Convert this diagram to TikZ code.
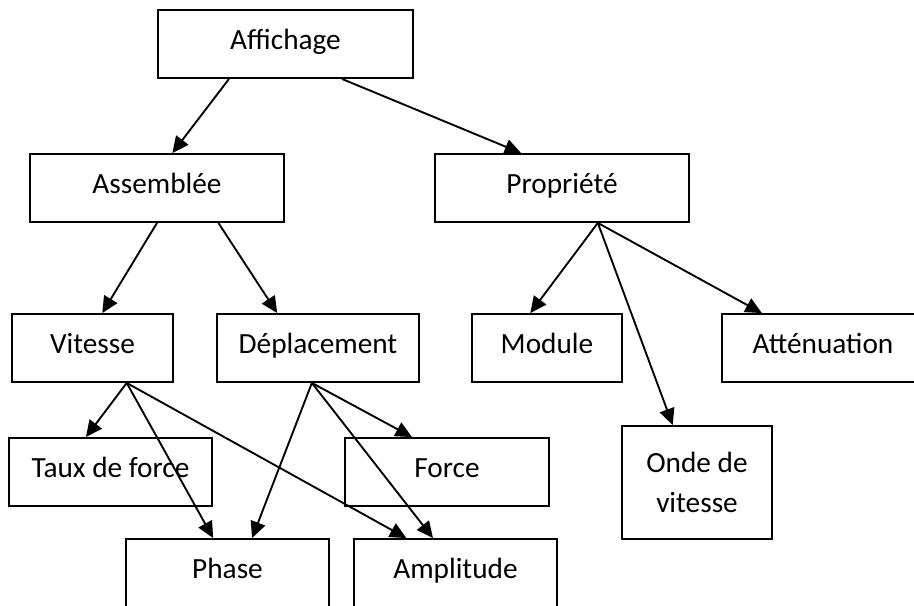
\documentclass[tikz,border=0pt]{standalone}
\usepackage{fontspec}
\setmainfont{Carlito}
\usepackage{tikz}
\usetikzlibrary{arrows.meta, calc}
\tikzset{
    box/.style={
        rectangle, draw=black, fill=white,
        minimum height=2.04cm,
        text centered, align=center,
        font=\fontsize{25}{34}\selectfont,
        line width=1.6pt, inner sep=0pt,
    },
    onebox/.style={
        box, text height=15pt, text depth=6pt,
    },
    arr/.style={
        -{Triangle[length=14pt, width=13pt]}, line width=1.6pt, color=black
    },
}

\begin{document}
\begin{tikzpicture}[x=0.03cm, y=-0.03cm]

    \useasboundingbox (0,0) rectangle (914,605);
    \clip (0,0) rectangle (914,605);

    % ── Top ──
    \node[onebox, minimum width=7.65cm] (aff) at (285.5, 44) {Affichage};

    % ── Second row ──
    \node[onebox, minimum width=7.62cm] (ass)  at (157, 188) {Assemblée};
    \node[onebox, minimum width=7.62cm] (prop) at (562, 188) {Propriété};

    % ── Third row ──
    \node[onebox, minimum width=4.83cm] (vit) at (92.5, 348) {Vitesse};
    \node[onebox, minimum width=6.06cm] (dep) at (318, 348)  {Déplacement};
    \node[onebox, minimum width=4.5cm]  (mod) at (547, 348)  {Module};
    \node[onebox, minimum width=6.06cm] (att) at (823, 348)  {Atténuation};

    % ── Fourth row ──
    \node[onebox, minimum width=6.09cm] (taux)  at (110.5, 472) {Taux de force};
    \node[onebox, minimum width=6.12cm] (force) at (447, 472)   {Force};
    \node[box, minimum width=4.5cm, minimum height=3.39cm] (onde) at (697, 482.5) {Onde de\\vitesse};

    % ── Bottom row (cut by the page edge) ──
    \node[onebox, minimum width=6.09cm] (phase) at (227.5, 573) {Phase};
    \node[onebox, minimum width=6.09cm] (ampl)  at (455.5, 573) {Amplitude};

    % ── Arrows: Affichage -> row 2 ──
    \draw[arr] ($(aff.south west)!.28!(aff.south east)$) -- ($(ass.north west)!.56!(ass.north east)$);
    \draw[arr] ($(aff.south west)!.72!(aff.south east)$) -- ($(prop.north west)!.34!(prop.north east)$);

    % ── Arrows: Assemblée -> Vitesse, Déplacement ──
    \draw[arr] ($(ass.south west)!.50!(ass.south east)$) -- ($(vit.north west)!.56!(vit.north east)$);
    \draw[arr] ($(ass.south west)!.74!(ass.south east)$) -- ($(dep.north west)!.30!(dep.north east)$);

    % ── Arrows: Propriété -> Module, Onde, Atténuation ──
    \draw[arr] ($(prop.south west)!.64!(prop.south east)$) -- ($(mod.north west)!.39!(mod.north east)$);
    \draw[arr] ($(prop.south west)!.64!(prop.south east)$) -- ($(onde.north west)!.34!(onde.north east)$);
    \draw[arr] ($(prop.south west)!.64!(prop.south east)$) -- ($(att.north west)!.20!(att.north east)$);

    % ── Arrows: Vitesse -> ... ──
    \draw[arr] ($(vit.south west)!.71!(vit.south east)$) -- ($(taux.north west)!.38!(taux.north east)$);
    \draw[arr] ($(vit.south west)!.71!(vit.south east)$) -- ($(phase.north west)!.43!(phase.north east)$);
    \draw[arr] ($(vit.south west)!.71!(vit.south east)$) -- ($(ampl.north west)!.26!(ampl.north east)$);

    % ── Arrows: Déplacement -> ... ──
    \draw[arr] ($(dep.south west)!.47!(dep.south east)$) -- ($(phase.north west)!.62!(phase.north east)$);
    \draw[arr] ($(dep.south west)!.47!(dep.south east)$) -- ($(force.north west)!.33!(force.north east)$);
    \draw[arr] ($(dep.south west)!.47!(dep.south east)$) -- ($(ampl.north west)!.39!(ampl.north east)$);

\end{tikzpicture}
\end{document}
